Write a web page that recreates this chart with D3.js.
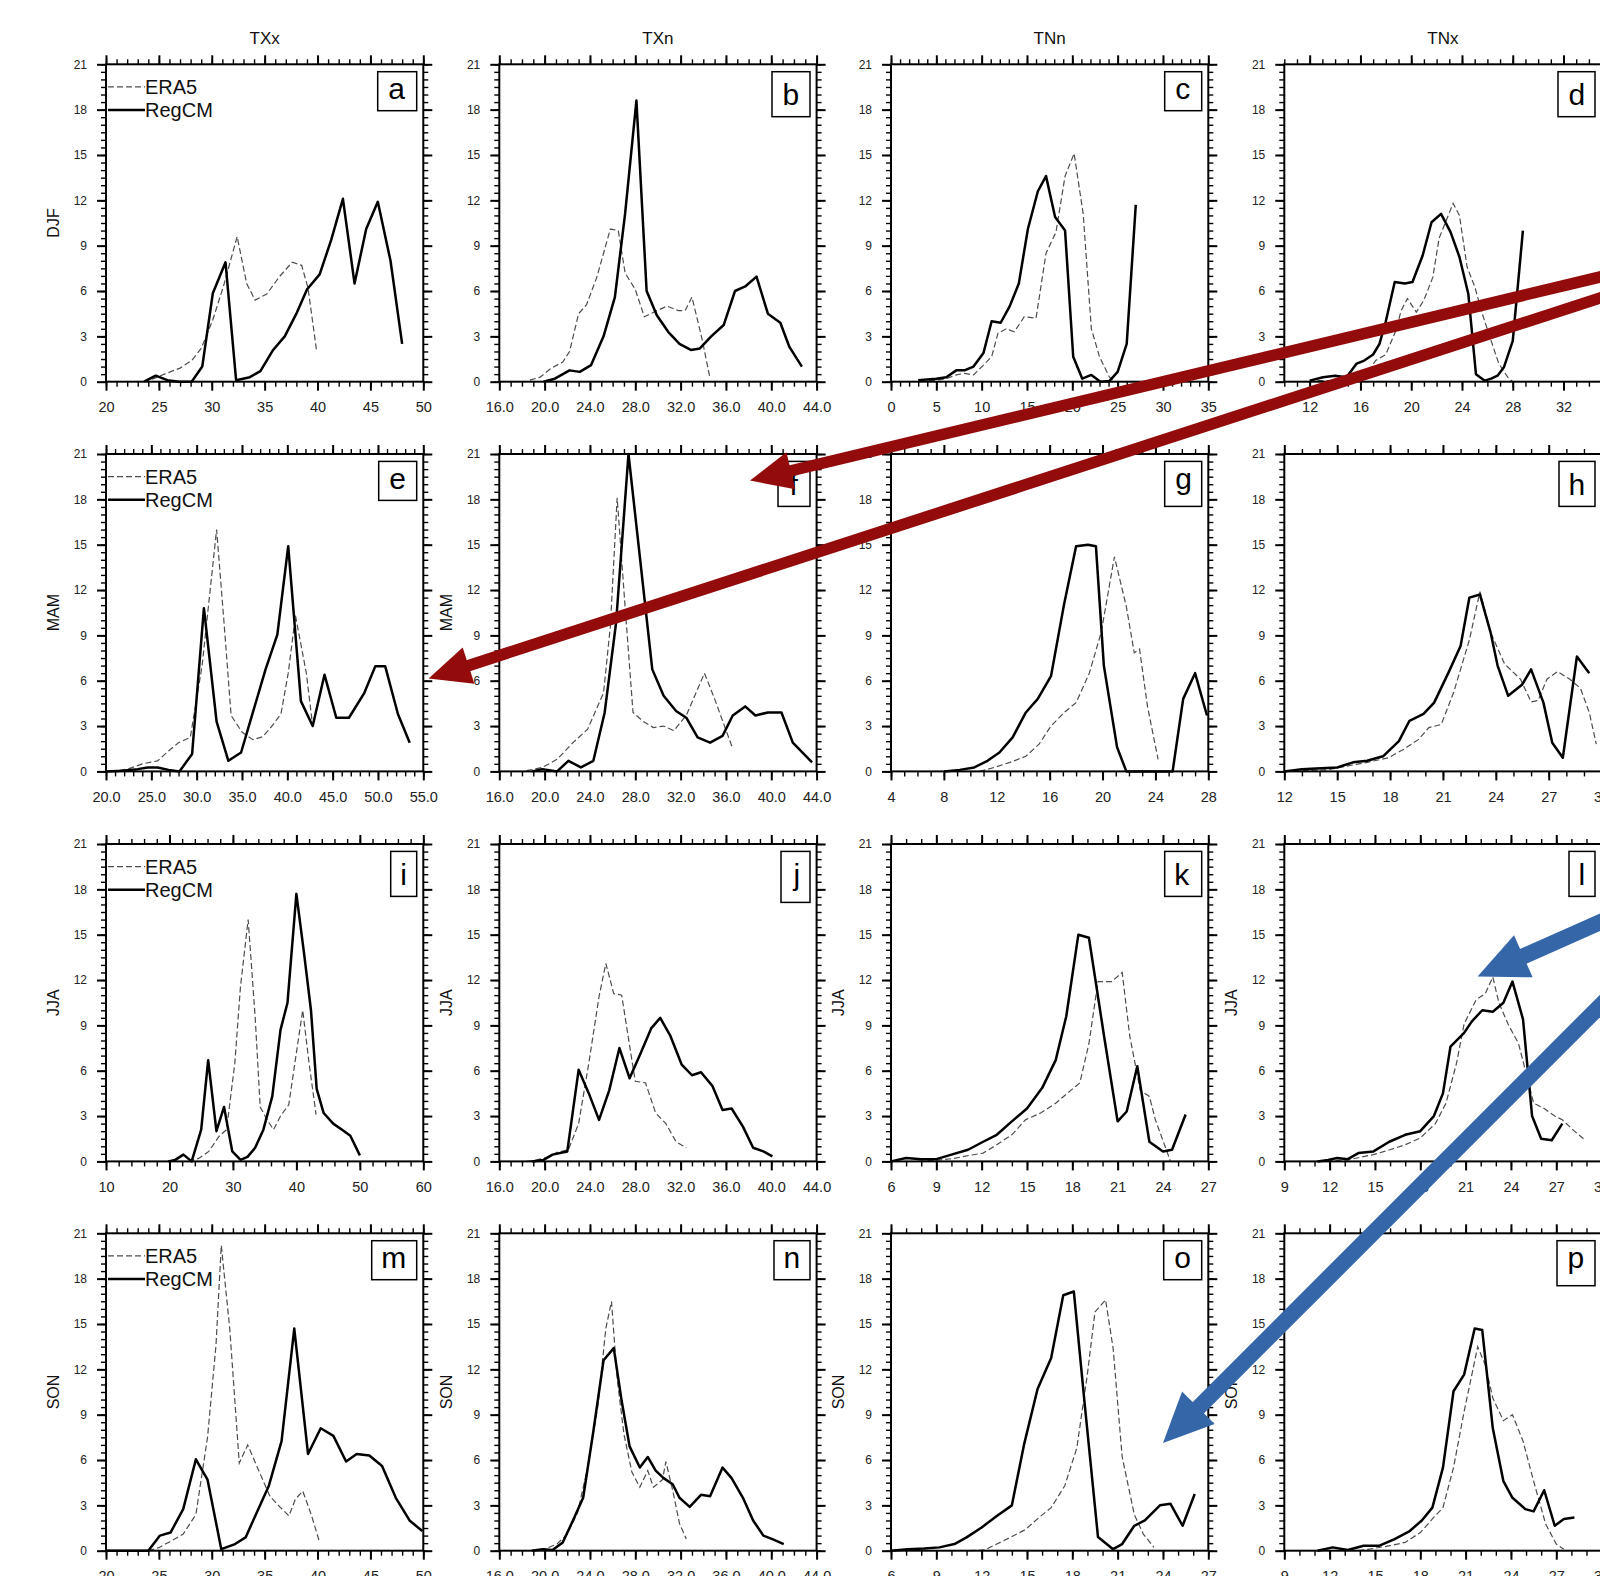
<!DOCTYPE html>
<html><head><meta charset="utf-8">
<script src="https://cdn.jsdelivr.net/npm/d3@7"></script>
<style>
html,body{margin:0;padding:0;background:#fff;overflow:hidden}
svg{display:block;font-family:"Liberation Sans",Arial,Helvetica,sans-serif}
</style></head><body>
<svg id="chart" width="1600" height="1576"></svg>
<script>
// ---------- categories / labels ----------
const columns = ["TXx", "TXn", "TNn", "TNx"];
const seasons = ["DJF", "MAM", "JJA", "SON"];
const panelLetters = ["a","b","c","d","e","f","g","h","i","j","k","l","m","n","o","p"];
const seasonLabelShown = [[1,0,0,0],[1,1,0,0],[1,1,1,1],[1,1,1,1]];
const seriesNames = ["ERA5", "RegCM"];
const yTicks = [0, 3, 6, 9, 12, 15, 18, 21];
const yMinorStep = 0.5;

// ---------- x axes per panel ----------
const xDomains = [[20,50],[16,44],[0,35],[10,35],[20,55],[16,44],[4,28],[12,30],
                  [10,60],[16,44],[6,27],[9,30],[20,50],[16,44],[6,27],[9,30]];
const xMajorTicks = [
  [20,25,30,35,40,45,50],[16,20,24,28,32,36,40,44],[0,5,10,15,20,25,30,35],[12,16,20,24,28,32],
  [20,25,30,35,40,45,50,55],[16,20,24,28,32,36,40,44],[4,8,12,16,20,24,28],[12,15,18,21,24,27,30],
  [10,20,30,40,50,60],[16,20,24,28,32,36,40,44],[6,9,12,15,18,21,24,27],[9,12,15,18,21,24,27,30],
  [20,25,30,35,40,45,50],[16,20,24,28,32,36,40,44],[6,9,12,15,18,21,24,27],[9,12,15,18,21,24,27,30]];
const xMinorStep = [1,1,1,1, 1,1,1,1, 2,1,1,1, 1,1,1,1];
const xDecimals  = [0,1,0,0, 1,1,0,0, 0,1,0,0, 0,1,0,0];

// ---------- series values [x, frequency] ----------
const eraA = [[23.5,0],[24.5,0.2],[25.7,0.55],[27,0.9],[28.1,1.4],[29,2.2],[30.1,4.1],[31.1,6.3],[32.4,9.6],[33.3,6.5],[34.1,5.4],[35.2,5.8],[36.4,6.95],[37.6,7.9],[38.5,7.7],[39.1,6.2],[39.9,2.1]];
const regA = [[23.6,0],[24.7,0.4],[25.8,0.1],[26.9,0],[28.1,0],[29.1,1.0],[30.1,5.85],[31.3,7.9],[32.3,0.1],[33.6,0.3],[34.6,0.7],[35.8,2.1],[36.9,3.0],[38,4.5],[39,6.1],[40.2,7.1],[41.3,9.4],[42.4,12.1],[43.5,6.5],[44.6,10.1],[45.7,11.9],[46.9,8.0],[48,2.5]];
const eraB = [[18.7,0.1],[19.6,0.3],[20.6,0.9],[21.6,1.3],[22.2,2.0],[23.0,4.5],[23.7,5.1],[24.6,6.9],[25.8,10.1],[26.5,10.0],[27.1,7.2],[28,6.1],[28.8,4.3],[29.9,4.7],[30.8,5.0],[31.8,4.7],[32.4,4.7],[33,5.6],[33.9,2.8],[34.6,0.2]];
const regB = [[19.9,0],[20.9,0.2],[22.2,0.75],[23.1,0.65],[24.1,1.1],[25.2,3.0],[26.2,5.6],[27.1,11.1],[28.1,18.6],[29,6.0],[29.9,4.4],[30.9,3.3],[31.9,2.5],[32.9,2.1],[33.7,2.2],[34.7,3.0],[35.8,3.75],[36.8,6.0],[37.7,6.3],[38.7,6.95],[39.7,4.5],[40.8,3.9],[41.6,2.3],[42.7,1.0]];
const eraC = [[3.2,0],[5,0.1],[6.1,0.2],[7.2,0.45],[8.1,0.55],[9.1,0.45],[10.2,1.1],[11.1,1.65],[11.8,3.2],[12.7,3.5],[13.6,3.3],[14.7,4.3],[16,4.2],[17.1,8.5],[18.2,9.9],[19.2,13.6],[20.2,15.1],[21.2,11.1],[22.1,3.5],[23,1.65],[24.1,0.3],[24.8,0]];
const regC = [[3.0,0.1],[5.0,0.2],[6.1,0.3],[7.2,0.75],[8.1,0.75],[9.1,1.0],[10.2,1.9],[11.1,4.0],[12.1,3.9],[13.1,5.0],[14.1,6.5],[15.1,10.1],[16.2,12.6],[17.1,13.6],[18.1,10.9],[19.2,10.0],[20.1,1.65],[21.1,0.2],[22.1,0.45],[23.1,0],[24.1,0.05],[25,0.65],[26,2.5],[27,11.7]];
const eraD = [[11.9,0],[12.8,0.07],[14.1,0.07],[15.4,0.07],[16.5,0.5],[17.2,1.4],[18,1.8],[18.8,3.4],[19.2,4.7],[19.7,5.5],[20.4,4.6],[21,5.4],[21.7,6.9],[22.2,9.5],[23.3,11.8],[23.8,11.0],[24.4,7.6],[25,6.3],[25.6,4.5],[26.3,2.7],[26.9,1.2],[27.6,0.3],[28,0]];
const regD = [[12,0.07],[13.05,0.3],[14,0.4],[14.9,0.3],[15.7,1.2],[16.3,1.4],[17,1.8],[17.5,2.5],[18,4.0],[18.7,6.6],[19.5,6.5],[20.1,6.6],[20.9,8.35],[21.6,10.55],[22.35,11.1],[23.1,9.9],[23.8,8.25],[24.5,5.8],[25.1,0.5],[25.8,0.07],[26.3,0.2],[26.8,0.4],[27.3,0.95],[28,2.7],[28.8,10.0]];
const eraE = [[20.5,0],[22.4,0.15],[24,0.5],[25.7,0.7],[26.9,1.35],[28,1.9],[29.3,2.25],[30.6,7.0],[32.2,16.0],[33.0,10.0],[33.8,3.7],[35,2.6],[36.2,2.1],[37.3,2.3],[38.3,3.0],[39.3,3.8],[40.1,6.5],[40.9,10.3],[42.1,6.5],[42.8,3.0]];
const regE = [[20,0],[21.8,0.05],[23.5,0.15],[24.6,0.26],[25.7,0.26],[26.9,0.1],[28.1,0],[29.5,1.15],[30.8,10.8],[32.2,3.3],[33.5,0.7],[34.9,1.25],[36.2,3.9],[37.6,6.75],[38.9,9.05],[40.1,14.9],[41.5,4.65],[42.8,3.0],[44.1,6.4],[45.4,3.55],[46.8,3.55],[48.5,5.2],[49.7,6.95],[50.8,6.95],[52.2,3.8],[53.5,1.9]];
const eraF = [[18.4,0.05],[19.8,0.26],[21.1,0.8],[22.5,1.9],[23.8,2.8],[25.2,5.2],[25.8,9.6],[26.4,18.1],[27.1,10.9],[27.8,3.9],[28.7,3.3],[29.6,2.9],[30.5,3.0],[31.4,2.7],[32.5,3.7],[34.1,6.5],[35,4.8],[36.6,1.5]];
const regF = [[18.9,0],[19.8,0.15],[21.1,0],[22.1,0.7],[23.2,0.26],[24.3,0.7],[25.3,3.9],[26.3,9.8],[27.4,21.0],[29.5,6.75],[30.5,5.0],[31.6,4.0],[32.5,3.55],[33.5,2.25],[34.6,1.9],[35.7,2.35],[36.6,3.7],[37.7,4.3],[38.6,3.7],[39.7,3.9],[40.9,3.9],[41.9,1.9],[43.6,0.6]];
const eraG = [[10.7,0],[11.8,0.26],[13,0.6],[14.2,1.0],[15.2,1.8],[16.1,3.0],[17.1,3.9],[18,4.55],[19,6.5],[19.9,9.2],[20.9,14.2],[21.8,10.9],[22.4,7.85],[22.8,8.1],[23.4,4.3],[24.2,0.8]];
const regG = [[8,0],[9.2,0.1],[10.3,0.26],[11.3,0.7],[12.2,1.25],[13.2,2.25],[14.2,3.9],[15.1,4.8],[16.1,6.3],[17.1,11.1],[18,14.9],[18.9,15.0],[19.5,14.9],[20.1,7.0],[21.1,1.6],[21.8,0],[25.3,0],[26.1,4.8],[27,6.5],[27.9,3.7]];
const eraH = [[12,0],[14.4,0.1],[16.7,0.6],[17.9,0.9],[18.75,1.45],[19.6,2.1],[20.2,2.9],[20.9,3.1],[21.6,5.2],[22.5,8.7],[23.1,11.9],[23.7,9.2],[24.5,7.1],[25.4,6.1],[26,4.6],[26.4,4.7],[26.9,6.1],[27.5,6.6],[28.2,6.1],[28.8,5.5],[29.3,3.9],[29.7,1.8]];
const regH = [[12,0],[13,0.15],[13.8,0.2],[15,0.26],[15.9,0.6],[16.7,0.7],[17.6,1.0],[18.5,2.0],[19.1,3.35],[19.9,3.8],[20.5,4.55],[21.3,6.5],[22,8.3],[22.5,11.5],[23.1,11.7],[23.7,9.2],[24.1,7.0],[24.7,5.0],[25.5,5.75],[26,6.75],[26.7,4.55],[27.2,1.9],[27.8,0.9],[28.6,7.6],[29.3,6.5]];
const eraI = [[23,0],[24.6,0.2],[26.2,0.66],[27.8,1.65],[29,2.1],[30.3,6.5],[31.2,11.6],[32.4,16.0],[33.5,9.6],[34.3,3.6],[35.4,2.75],[36.4,2.1],[37.5,3.0],[38.8,3.75],[39.9,6.9],[41,10],[42,6.5],[43.1,3.1]];
const regI = [[19.8,0],[20.9,0.1],[22.2,0.45],[23.5,0],[25,2.1],[26.1,6.7],[27.4,2.0],[28.6,3.6],[29.9,0.66],[31.2,0.1],[32.3,0.3],[33.5,0.9],[34.8,2.1],[36.2,4.3],[37.5,8.7],[38.6,10.5],[40,17.7],[41.2,13.8],[42.3,10],[43.2,4.8],[44.3,3.2],[45.8,2.5],[47.2,2.1],[48.5,1.7],[50,0.4]];
const eraJ = [[18.4,0],[19.3,0.1],[20.2,0.26],[21.1,0.6],[22.1,0.77],[23,2.5],[23.9,6.5],[24.8,10.9],[25.4,13.1],[26.1,11.1],[26.8,11.0],[27.5,7.65],[28,5.3],[28.9,5.2],[29.8,3.2],[30.7,2.5],[31.6,1.3],[32.5,0.9]];
const regJ = [[18.9,0],[19.9,0.1],[20.7,0.45],[22,0.66],[23,6.06],[23.9,4.5],[24.8,2.75],[25.7,4.7],[26.6,7.5],[27.5,5.5],[28.5,7.2],[29.4,8.8],[30.2,9.5],[31.1,8.3],[32.1,6.4],[33,5.7],[33.8,5.9],[34.8,5.0],[35.7,3.4],[36.5,3.5],[37.5,2.3],[38.4,0.9],[39.3,0.66],[40.1,0.33]];
const eraK = [[7.8,0],[8.8,0.05],[10.2,0.2],[11.2,0.4],[12.1,0.55],[13,1.1],[14,1.76],[14.9,2.75],[15.9,3.2],[16.9,3.85],[17.9,4.7],[18.5,5.2],[19.1,7.8],[19.7,11.9],[20.6,11.9],[21.3,12.5],[21.8,8.3],[22.5,4.7],[23.1,4.3],[23.5,2.75],[24.5,0]];
const regK = [[6,0],[7,0.22],[8,0.15],[9,0.15],[10,0.45],[11.1,0.77],[12.1,1.3],[13,1.76],[14,2.65],[15,3.5],[16,4.85],[16.9,6.7],[17.6,9.6],[18.4,15.0],[19.1,14.8],[20.1,8.3],[21,2.65],[21.6,3.3],[22.3,6.3],[23.1,1.3],[24,0.66],[24.6,0.77],[25.5,3.1]];
const eraL = [[11.2,0],[13.2,0.1],[14.9,0.45],[16,0.77],[17,1.1],[18,1.55],[19,2.5],[19.7,3.85],[20.4,6.5],[20.9,9.1],[21.7,10.7],[22.3,11.1],[22.8,12.2],[23.2,10.5],[23.8,9.1],[24.5,7.8],[25,5.85],[25.5,3.85],[26.2,3.5],[26.9,3.0],[27.4,2.75],[28.2,2.0],[28.8,1.5]];
const regL = [[11.2,0],[11.9,0.1],[12.5,0.22],[13.2,0.15],[13.9,0.55],[14.9,0.66],[15.95,1.3],[17,1.76],[18,2.0],[18.9,3.0],[19.5,4.5],[20.0,7.6],[20.9,8.5],[21.4,9.25],[22.1,10.0],[22.8,9.9],[23.5,10.5],[24.1,11.9],[24.8,9.4],[25.4,3.0],[26.0,1.5],[26.7,1.4],[27.4,2.5]];
const eraM = [[24,0],[25,0.2],[26.2,0.66],[27.3,1.1],[28.5,2.4],[29.6,7.5],[30.4,13.6],[30.9,20.2],[31.7,14.7],[32.6,5.8],[33.4,7.0],[34.6,5.05],[35.5,3.6],[36.5,2.85],[37.3,2.3],[37.9,3.4],[38.6,3.95],[39.4,2.4],[40.2,0.55]];
const regM = [[20,0],[24,0],[25.1,1.0],[26.1,1.2],[27.3,2.75],[28.5,6.05],[29.6,4.7],[30.9,0.1],[32.2,0.44],[33.2,0.88],[34.3,2.6],[35.4,4.3],[36.6,7.25],[37.8,14.7],[39.1,6.4],[40.3,8.1],[41.5,7.6],[42.7,5.9],[43.7,6.4],[44.9,6.3],[46.1,5.6],[47.4,3.5],[48.7,2.0],[49.9,1.3]];
const eraN = [[18,0],[19.8,0.05],[21.1,0.44],[22,1.1],[22.9,2.5],[23.8,5.5],[24.7,9.6],[25.4,14.7],[25.9,16.5],[26.4,11.4],[27,7.7],[27.7,5.2],[28.4,4.2],[29.1,5.3],[29.6,4.2],[30.4,4.7],[30.7,5.9],[31.3,4.0],[31.9,1.8],[32.5,0.77]];
const regN = [[18.9,0],[19.8,0.1],[20.7,0.05],[21.6,0.55],[22.5,2.0],[23.4,3.5],[24.3,7.9],[25.2,12.6],[26.1,13.4],[26.8,9.9],[27.5,6.9],[28.4,5.5],[29.1,6.2],[29.8,5.3],[30.5,4.8],[31.3,4.4],[31.9,3.5],[32.8,2.9],[33.8,3.7],[34.6,3.6],[35.7,5.5],[36.5,4.8],[37.5,3.5],[38.4,2.0],[39.3,1.0],[40.1,0.77],[41.1,0.44]];
const eraO = [[11.2,0],[12.2,0.05],[13,0.44],[13.9,0.88],[14.9,1.4],[15.8,2.2],[16.6,2.85],[17.5,4.3],[18.3,6.8],[19,11.7],[19.5,15.8],[20.2,16.6],[20.7,13.4],[21.3,6.2],[22.1,2.4],[22.7,1.1],[23.4,0.22]];
const regO = [[6,0],[7.1,0.1],[8.2,0.15],[9.2,0.22],[10.2,0.44],[11,0.88],[12,1.54],[13,2.3],[14,3.0],[14.8,7.0],[15.7,10.7],[16.6,12.75],[17.4,16.9],[18.1,17.15],[18.8,9.9],[19.7,0.9],[20.7,0.1],[21.3,0.44],[22.1,1.65],[22.8,2.0],[23.8,3.0],[24.5,3.1],[25.3,1.65],[26.1,3.75]];
const eraP = [[13.9,0],[14.9,0.15],[16,0.33],[17,0.55],[18,1.2],[18.8,2.1],[19.5,2.85],[20.2,5.5],[20.9,9.2],[21.8,13.5],[22.3,12.3],[22.8,10.1],[23.5,8.6],[24.1,9.0],[24.8,7.25],[25.5,4.6],[26.3,1.76],[27,0.44],[27.5,0.1]];
const regP = [[11.2,0],[12.2,0.22],[13.2,0.05],[14.25,0.33],[15.3,0.33],[16.3,0.77],[17.3,1.3],[18.1,2.0],[18.8,2.85],[19.5,5.5],[20.2,10.55],[20.9,11.65],[21.6,14.7],[22.1,14.6],[22.8,8.1],[23.5,4.6],[24.1,3.5],[24.95,2.75],[25.5,2.6],[26.2,4.0],[26.9,1.65],[27.5,2.1],[28.2,2.2]];

const eraSeries = [eraA,eraB,eraC,eraD,eraE,eraF,eraG,eraH,eraI,eraJ,eraK,eraL,eraM,eraN,eraO,eraP];
const regSeries = [regA,regB,regC,regD,regE,regF,regG,regH,regI,regJ,regK,regL,regM,regN,regO,regP];

// ---------- annotation arrows [x0,y0,x1(tip),y1(tip)] ----------
const redArrows  = [[1620,272.2,750,480.6],[1620,291.5,428.6,678.6]];
const blueArrows = [[1620,913.5,1477.6,976.5],[1620,986,1163,1443]];

// ---------- layout ----------
const svg = d3.select("#chart");
const colLeft = [106, 499.3, 891, 1284.3];
const rowTop = [64.3, 454, 844, 1233.3];
const PW = 317.3, PH = 317.4;
const FONT = '"Liberation Sans",Arial,Helvetica,sans-serif';

const mctx = document.createElement("canvas").getContext("2d");

// column titles
columns.forEach((t, c) => {
  svg.append("text").attr("x", colLeft[c] + PW / 2).attr("y", 43.5)
    .attr("text-anchor", "middle").attr("font-size", 17).attr("fill", "#111").text(t);
});

panelLetters.forEach((letter, i) => {
  const r = Math.floor(i / 4), c = i % 4;
  const g = svg.append("g").attr("transform", `translate(${colLeft[c]},${rowTop[r]})`);
  const x = d3.scaleLinear().domain(xDomains[i]).range([0, PW]);
  const y = d3.scaleLinear().domain([0, 21]).range([PH, 0]);
  const [d0, d1] = xDomains[i];
  const minorX = d3.range(d0, d1 + 1e-9, xMinorStep[i]);
  const minorY = d3.range(0, 21 + 1e-9, yMinorStep);
  const fmt = xDecimals[i] ? d3.format(".1f") : d3.format("d");

  // series lines
  const line = d3.line().x(d => x(d[0])).y(d => y(d[1]));
  g.append("path").datum(eraSeries[i]).attr("d", line)
    .attr("fill", "none").attr("stroke", "#4d4d4d").attr("stroke-width", 1.2)
    .attr("stroke-dasharray", "6,3");
  g.append("path").datum(regSeries[i]).attr("d", line)
    .attr("fill", "none").attr("stroke", "#000").attr("stroke-width", 2.5)
    .attr("stroke-linejoin", "round");

  // axes: minor ticks
  const styleAxis = (sel, w) => {
    sel.select(".domain").remove();
    sel.selectAll(".tick line").attr("stroke", "#000").attr("stroke-width", w);
  };
  g.append("g").attr("transform", `translate(0,${PH})`)
    .call(d3.axisBottom(x).tickValues(minorX).tickSize(5).tickFormat(""))
    .call(s => styleAxis(s, 1.4));
  g.append("g")
    .call(d3.axisTop(x).tickValues(minorX).tickSize(5).tickFormat(""))
    .call(s => styleAxis(s, 1.4));
  g.append("g")
    .call(d3.axisLeft(y).tickValues(minorY).tickSize(5).tickFormat(""))
    .call(s => styleAxis(s, 1.4));
  g.append("g").attr("transform", `translate(${PW},0)`)
    .call(d3.axisRight(y).tickValues(minorY).tickSize(5).tickFormat(""))
    .call(s => styleAxis(s, 1.4));

  // major ticks
  const bx = g.append("g").attr("transform", `translate(0,${PH})`)
    .call(d3.axisBottom(x).tickValues(xMajorTicks[i]).tickSize(9).tickPadding(11).tickFormat(fmt))
    .call(s => styleAxis(s, 2));
  bx.selectAll("text").attr("font-size", 14.5).attr("fill", "#222").attr("font-family", FONT);
  g.append("g")
    .call(d3.axisTop(x).tickValues(xMajorTicks[i]).tickSize(9).tickFormat(""))
    .call(s => styleAxis(s, 2));
  const ly = g.append("g")
    .call(d3.axisLeft(y).tickValues(yTicks).tickSize(9).tickPadding(10).tickFormat(d3.format("d")))
    .call(s => styleAxis(s, 2));
  ly.selectAll("text").attr("font-size", 12).attr("fill", "#222").attr("font-family", FONT);
  g.append("g").attr("transform", `translate(${PW},0)`)
    .call(d3.axisRight(y).tickValues(yTicks).tickSize(9).tickFormat(""))
    .call(s => styleAxis(s, 2));

  // frame
  g.append("rect").attr("width", PW).attr("height", PH)
    .attr("fill", "none").attr("stroke", "#000").attr("stroke-width", 2);

  // season label
  if (seasonLabelShown[r][c]) {
    g.append("text").attr("transform", `translate(-53,${PH / 2}) rotate(-90)`)
      .attr("text-anchor", "middle").attr("dominant-baseline", "central")
      .attr("font-size", 16).attr("fill", "#111").text(seasons[r]);
  }

  // legend in first column
  if (c === 0) {
    const lg = g.append("g");
    [[22.6, "6,3", "#4d4d4d", 1.2], [45.7, null, "#000", 2.5]].forEach((st, k) => {
      lg.append("line").attr("x1", 2).attr("x2", 39).attr("y1", st[0]).attr("y2", st[0])
        .attr("stroke", st[2]).attr("stroke-width", st[3])
        .attr("stroke-dasharray", st[1]);
      lg.append("text").attr("x", 39).attr("y", st[0]).attr("dy", "0.36em")
        .attr("font-size", 20).attr("fill", "#111").text(seriesNames[k]);
    });
  }

  // panel letter box
  mctx.font = `30px ${FONT}`;
  const m = mctx.measureText(letter);
  const inkW = m.actualBoundingBoxLeft + m.actualBoundingBoxRight;
  const inkH = m.actualBoundingBoxAscent + m.actualBoundingBoxDescent;
  const padX = 11.5, padY = 11.5;
  const bw = inkW + 2 * padX, bh = inkH + 2 * padY;
  const bx0 = PW - 6.6 - bw, by0 = 7.4;
  g.append("rect").attr("x", bx0).attr("y", by0).attr("width", bw).attr("height", bh)
    .attr("fill", "#fff").attr("stroke", "#000").attr("stroke-width", 1.5);
  g.append("text").attr("x", bx0 + padX + m.actualBoundingBoxLeft)
    .attr("y", by0 + padY + m.actualBoundingBoxAscent)
    .attr("font-size", 30).attr("fill", "#000").text(letter);
});

// ---------- arrows ----------
function drawArrow(a, color, shaftW, headL, headW) {
  const [x0, y0, x1, y1] = a;
  const dx = x1 - x0, dy = y1 - y0, L = Math.hypot(dx, dy);
  const ux = dx / L, uy = dy / L, px = -uy, py = ux;
  const bx = x1 - ux * headL, by = y1 - uy * headL;
  svg.append("line").attr("x1", x0).attr("y1", y0)
    .attr("x2", bx + ux * 2).attr("y2", by + uy * 2)
    .attr("stroke", color).attr("stroke-width", shaftW);
  svg.append("path")
    .attr("d", `M${x1},${y1}L${bx + px * headW / 2},${by + py * headW / 2}L${bx - px * headW / 2},${by - py * headW / 2}Z`)
    .attr("fill", color);
}
redArrows.forEach(a => drawArrow(a, "#930b0b", 11.5, 42, 38));
blueArrows.forEach(a => drawArrow(a, "#3566a8", 16, 50, 46));
</script>
</body></html>
